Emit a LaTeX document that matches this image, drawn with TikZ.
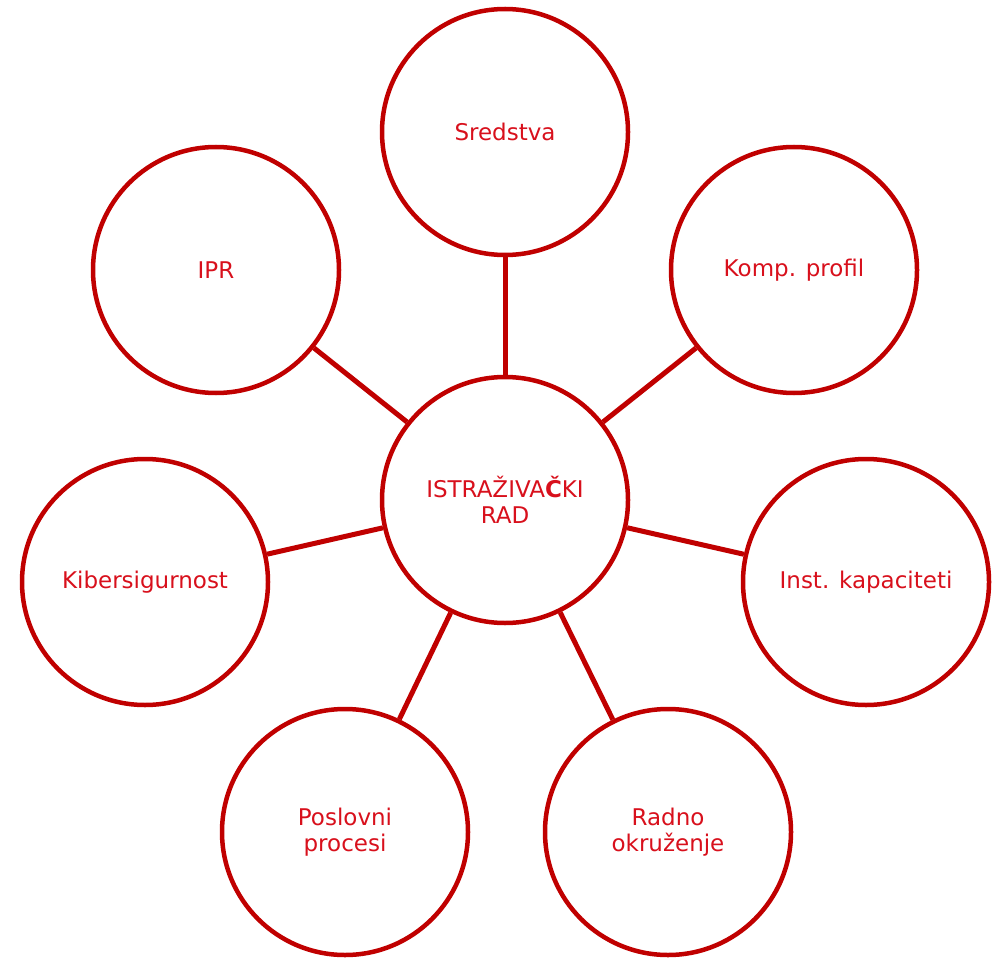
\documentclass[tikz,border=0pt]{standalone}
\usepackage{fontspec}
\setmainfont{DejaVu Sans}
\definecolor{ring}{HTML}{C00000}
\definecolor{label}{HTML}{D8101C}
\begin{document}
\begin{tikzpicture}[x=1pt,y=-1pt,
  topic/.style={circle, draw=ring, line width=4.5pt, minimum size=246pt,
    inner sep=0pt, align=center, text=label, font=\fontsize{23}{26}\selectfont},
  link/.style={draw=ring, line width=5pt}]
  \useasboundingbox (0,0) rectangle (1001,960);
  \node[topic] (core) at (505,500) {ISTRAŽIVA\textbf{Č}KI\\RAD};
  \node[topic] (sred) at (505,132) {Sredstva};
  \node[topic] (ipr) at (216,270) {IPR};
  \node[topic] (komp) at (794,270) {Komp. profil};
  \node[topic] (kib) at (145,582) {Kibersigurnost};
  \node[topic] (inst) at (866,582) {Inst. kapaciteti};
  \node[topic] (posl) at (345,832) {Poslovni\\procesi};
  \node[topic] (radno) at (668,832) {Radno\\okruženje};
  \foreach \n in {sred,ipr,komp,kib,inst,posl,radno}
    \draw[link] (core) -- (\n);
\end{tikzpicture}
\end{document}
